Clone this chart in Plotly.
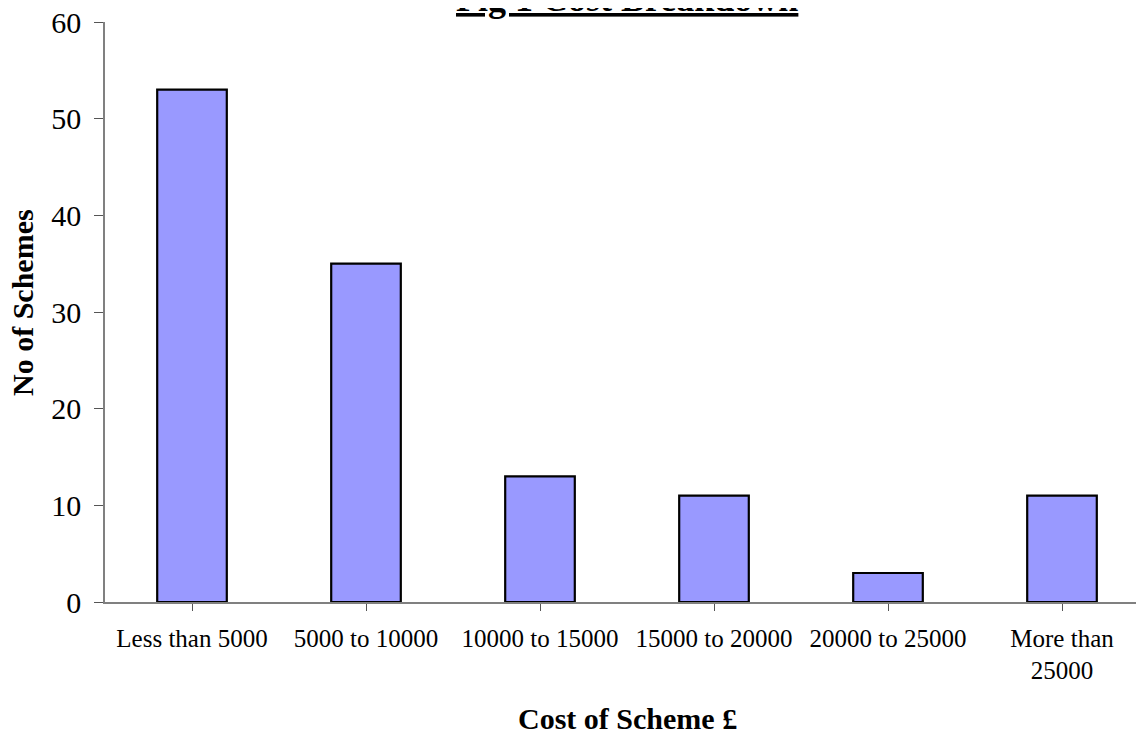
import plotly.graph_objects as go

categories = ["Less than 5000", "5000 to 10000", "10000 to 15000", "15000 to 20000",
              "20000 to 25000", "More than<br>25000"]
schemes = [53, 35, 13, 11, 3, 11]
y_ticks = [0, 10, 20, 30, 40, 50, 60]

FONT = "Liberation Serif, Times New Roman, serif"

fig = go.Figure()
fig.add_trace(go.Bar(
    x=list(range(len(categories))),
    y=schemes,
    width=0.4,
    marker=dict(color="#9999FF", line=dict(color="#000000", width=2.2)),
    hoverinfo="skip",
))

fig.update_layout(
    width=1144, height=735,
    margin=dict(l=97, r=3, t=14, b=141, autoexpand=False),
    paper_bgcolor="white", plot_bgcolor="white",
    showlegend=False,
    font=dict(family=FONT, color="black"),
    xaxis=dict(
        range=[-0.5, 5.5],
        tickmode="array",
        tickvals=list(range(len(categories))),
        ticktext=categories,
        tickson="boundaries",
        ticks="outside", ticklen=7, tickcolor="#555555", tickwidth=1,
        showline=True, linecolor="#808080", linewidth=1.5,
        showgrid=False, zeroline=False,
        tickfont=dict(family=FONT, size=25, color="black"),
        ticklabelstandoff=6,
        ticklabeloverflow="allow",
        automargin=False,
        fixedrange=True,
    ),
    yaxis=dict(
        range=[0, 60],
        tickmode="array", tickvals=y_ticks,
        ticks="outside", ticklen=9, tickcolor="#555555", tickwidth=1,
        showline=True, linecolor="#808080", linewidth=1.5,
        showgrid=False, zeroline=False,
        tickfont=dict(family=FONT, size=30, color="black"),
        ticklabelstandoff=7,
        ticklabeloverflow="allow",
        automargin=False,
        fixedrange=True,
    ),
    annotations=[
        dict(text="<b><u>Fig 1 Cost Breakdown</u></b>", xref="paper", yref="paper",
             x=0.5, y=1, xanchor="center", yanchor="bottom", yshift=1,
             showarrow=False, font=dict(family=FONT, size=36, color="black")),
        dict(text="<b>Cost of Scheme £</b>", xref="paper", yref="paper",
             x=0.5, y=0, xanchor="center", yanchor="top", yshift=-98,
             showarrow=False, font=dict(family=FONT, size=30, color="black")),
        dict(text="<b>No of Schemes</b>", xref="paper", yref="paper",
             x=-0.0795, y=0.5155, xanchor="center", yanchor="middle", textangle=-90,
             showarrow=False, font=dict(family=FONT, size=30, color="black")),
    ],
)

fig.write_html("out.html")
